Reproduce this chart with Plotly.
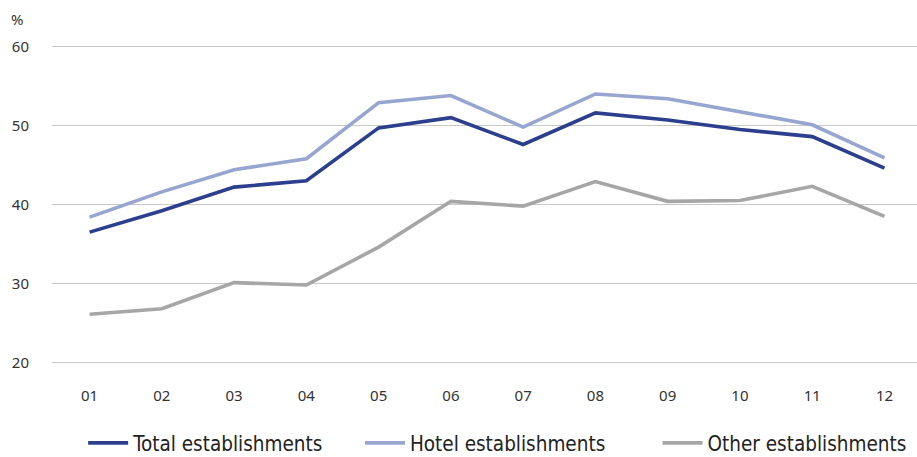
import plotly.graph_objects as go

months = ["01", "02", "03", "04", "05", "06", "07", "08", "09", "10", "11", "12"]
total = [36.5, 39.2, 42.2, 43.0, 49.7, 51.0, 47.6, 51.6, 50.7, 49.5, 48.6, 44.6]
hotel = [38.4, 41.6, 44.4, 45.8, 52.9, 53.8, 49.8, 54.0, 53.4, 51.8, 50.1, 45.9]
other = [26.1, 26.8, 30.1, 29.8, 34.6, 40.4, 39.8, 42.9, 40.4, 40.5, 42.3, 38.5]

series = [
    ("Total establishments", total, "#2b3f8e", "legend", 0.036),
    ("Hotel establishments", hotel, "#97a6d0", "legend2", 0.356),
    ("Other establishments", other, "#a6a6a6", "legend3", 0.70),
]

fig = go.Figure()
legend_layout = {}
for name, vals, col, leg, lx in series:
    fig.add_trace(go.Scatter(x=months, y=vals, name=name, mode="lines",
                             line=dict(color=col, width=3.6), legend=leg))
    legend_layout[leg] = dict(
        orientation="h", x=lx, xanchor="left", y=-0.185, yanchor="top",
        font=dict(family="DejaVu Sans Condensed, Noto Sans", size=20.5, color="#222222"),
        itemwidth=40, bgcolor="rgba(0,0,0,0)")

fig.add_shape(type="line", xref="paper", yref="y", x0=0, x1=1, y0=40, y1=40,
              line=dict(color="#555555", width=1.2), layer="below")

fig.update_layout(
    width=917, height=457,
    margin=dict(l=52, r=0, t=45, b=93, autoexpand=False),
    paper_bgcolor="white", plot_bgcolor="white",
    font=dict(family="Noto Sans", size=15, color="#333333"),
    showlegend=True,
    xaxis=dict(type="category", range=[-0.52, 11.45], showgrid=False, zeroline=False,
               showline=False, ticks="", ticklabelstandoff=21,
               tickfont=dict(size=15, color="#333333")),
    yaxis=dict(range=[19.8, 60.2], tickvals=[20, 30, 40, 50, 60], showgrid=True,
               gridcolor="#c8c8c8", gridwidth=1.2, zeroline=False, showline=False,
               ticks="", ticklabelstandoff=22,
               tickfont=dict(size=15, color="#333333")),
    annotations=[dict(text="%", xref="paper", yref="paper", x=-0.031, y=1.08,
                      xanchor="right", yanchor="middle", showarrow=False,
                      font=dict(size=15, color="#333333"))],
    **legend_layout,
)

fig.write_html("out.html", config={"displayModeBar": False},
               post_script="document.body.style.margin='0px';")
